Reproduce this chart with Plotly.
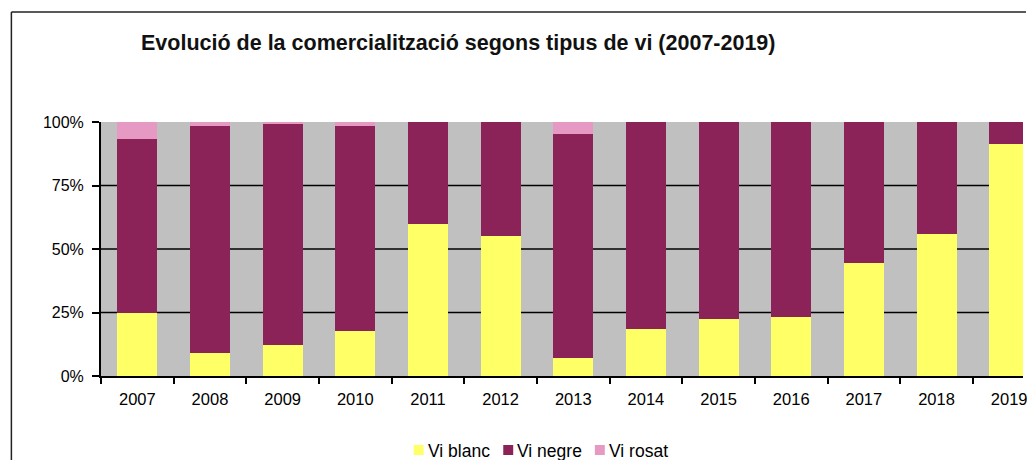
import plotly.graph_objects as go

# ---- data (percent of commercialisation by wine type) ----
years = ["2007", "2008", "2009", "2010", "2011", "2012", "2013",
         "2014", "2015", "2016", "2017", "2018", "2019"]
vi_blanc = [25.0, 8.9, 12.2, 17.7, 60.0, 55.3, 7.2, 18.6, 22.3, 23.1, 44.6, 56.1, 91.2]
vi_negre = [68.5, 89.4, 86.9, 80.7, 40.0, 44.7, 88.0, 81.4, 77.7, 76.9, 55.4, 43.9, 8.8]
vi_rosat = [6.5, 1.7, 0.9, 1.6, 0.0, 0.0, 4.8, 0.0, 0.0, 0.0, 0.0, 0.0, 0.0]
series_names = ["Vi blanc", "Vi negre", "Vi rosat"]
series_colors = ["#FFFF66", "#8C2358", "#E69AC3"]
y_ticks = [0, 25, 50, 75, 100]
y_ticktext = ["0%", "25%", "50%", "75%", "100%"]
grid_vals = [25, 50, 75]
title_text = "Evolució de la comercialització segons tipus de vi (2007-2019)"

FONT = "Liberation Sans, Arial, sans-serif"
W, H = 1027, 460
ML, MR, MT, MB = 101, 0, 122, 84
PW, PH = W - ML - MR, H - MT - MB


def px2x(px):
    return (px - ML) / PW


def py2y(py):
    return (H - MB - py) / PH


fig = go.Figure()
for name, vals, col in zip(series_names, [vi_blanc, vi_negre, vi_rosat], series_colors):
    fig.add_trace(go.Bar(x=years, y=vals, name=name, marker_color=col,
                         marker_line_width=0, showlegend=False))

shapes = []
for g in grid_vals:
    shapes.append(dict(type="line", xref="paper", yref="y", x0=0, x1=1, y0=g, y1=g,
                       line=dict(color="black", width=1.5), layer="below"))
# outer chart frame (top and left edges visible)
shapes.append(dict(type="line", xref="paper", yref="paper",
                   x0=px2x(11), x1=px2x(1030), y0=py2y(12), y1=py2y(12),
                   line=dict(color="#222222", width=1.5)))
shapes.append(dict(type="line", xref="paper", yref="paper",
                   x0=px2x(11), x1=px2x(11), y0=py2y(12), y1=py2y(465),
                   line=dict(color="#222222", width=1.5)))

# custom legend
annotations = []
leg_sq = [415, 505, 597]
for name, col, sx in zip(series_names, series_colors, leg_sq):
    shapes.append(dict(type="rect", xref="paper", yref="paper",
                       x0=px2x(sx), x1=px2x(sx + 10), y0=py2y(455), y1=py2y(445),
                       fillcolor=col, line=dict(width=0)))
    annotations.append(dict(text=name, xref="paper", yref="paper",
                            x=px2x(sx + 12), y=py2y(451), xanchor="left", yanchor="middle",
                            showarrow=False, font=dict(family=FONT, size=17.5, color="black")))

fig.update_layout(
    width=W, height=H,
    margin=dict(l=ML, r=MR, t=MT, b=MB, pad=0),
    barmode="stack", bargap=0.45,
    paper_bgcolor="white", plot_bgcolor="#C0C0C0",
    font=dict(family=FONT, size=16, color="black"),
    title=dict(text="<b>" + title_text + "</b>", xref="container", yref="container",
               x=141 / W, xanchor="left", y=1 - 42.5 / H, yanchor="middle",
               font=dict(family=FONT, size=21.5, color="#111111")),
    shapes=shapes, annotations=annotations,
)
fig.update_xaxes(type="category", range=[-0.5, 12.19], showgrid=False,
                 showline=True, linecolor="black", linewidth=2,
                 ticks="outside", tickson="boundaries", ticklen=6, tickwidth=1.5,
                 tickcolor="black", ticklabeloverflow="allow", ticklabelstandoff=7,
                 tickfont=dict(family=FONT, size=16.5, color="black"))
fig.update_yaxes(range=[0, 100], tickvals=y_ticks, ticktext=y_ticktext, showgrid=False,
                 zeroline=False, showline=True, linecolor="black", linewidth=2,
                 ticks="outside", ticklen=7, tickwidth=1.5, tickcolor="black",
                 ticklabelstandoff=5,
                 tickfont=dict(family=FONT, size=16, color="black"))

fig.write_html("out.html", config={"displayModeBar": False},
               post_script="document.body.style.margin='0';document.body.style.overflow='hidden';")
